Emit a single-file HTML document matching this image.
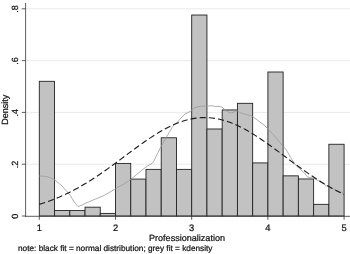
<!DOCTYPE html>
<html><head><meta charset="utf-8"><title>Density</title>
<style>
html,body{margin:0;padding:0;background:#fff;}
svg{display:block;}
text{text-rendering:geometricPrecision;font-family:"Liberation Sans",Arial,sans-serif;fill:#111;stroke:#111;stroke-width:0.22px;}
</style></head><body>
<svg width="350" height="254" viewBox="0 0 350 254">
<rect width="350" height="254" fill="#fff"/>
<g stroke="#eaeaea" stroke-width="1"><line x1="26" x2="350" y1="164.20" y2="164.20"/><line x1="26" x2="350" y1="112.40" y2="112.40"/><line x1="26" x2="350" y1="60.60" y2="60.60"/><line x1="26" x2="350" y1="8.80" y2="8.80"/></g>
<g fill="#c2c2c2" stroke="#222" stroke-width="0.9"><rect x="39.30" y="81.32" width="15.24" height="134.68"/><rect x="54.54" y="210.56" width="15.24" height="5.44"/><rect x="69.78" y="210.56" width="15.24" height="5.44"/><rect x="85.02" y="207.19" width="15.24" height="8.81"/><rect x="100.26" y="213.41" width="15.24" height="2.59"/><rect x="115.50" y="163.42" width="15.24" height="52.58"/><rect x="130.74" y="179.09" width="15.24" height="36.91"/><rect x="145.98" y="169.38" width="15.24" height="46.62"/><rect x="161.22" y="137.78" width="15.24" height="78.22"/><rect x="176.46" y="169.38" width="15.24" height="46.62"/><rect x="191.70" y="15.02" width="15.24" height="200.98"/><rect x="206.94" y="128.98" width="15.24" height="87.02"/><rect x="222.18" y="109.94" width="15.24" height="106.06"/><rect x="237.42" y="103.33" width="15.24" height="112.67"/><rect x="252.66" y="162.91" width="15.24" height="53.09"/><rect x="267.90" y="72.00" width="15.24" height="144.00"/><rect x="283.14" y="175.85" width="15.24" height="40.15"/><rect x="298.38" y="178.96" width="15.24" height="37.04"/><rect x="313.62" y="204.34" width="15.24" height="11.66"/><rect x="328.86" y="144.26" width="15.24" height="71.74"/></g>
<path d="M39.3,176 L45,176.3 L50,177.5 L54,179.5 L58,182.5 L62,186 L66,190.5 L70,195 L74,201.5 L78,206.6 L82,205 L86,203 L92,200.5 L98,198 L104,195.5 L110,192 L116,188.5 L120,186 L124,184 L130,180 L136,175 L142,170 L148,165.6 L152,163.4 L154,161 L156,156.5 L160,148.6 L164,141.4 L168,134.4 L172,127.6 L174.5,124.5 L177,122.6 L181,118 L185,114 L189,112 L192,110 L195,107.6 L199,106.6 L203,106 L207,106.4 L211,105.6 L215,106.4 L219,106.4 L222,107 L224,109 L228,112 L231,113 L234,112 L237,110.6 L240,112.6 L244,114 L248,115 L252,116 L256,119 L260,122 L264,125 L268,129 L272,133.4 L276,137.8 L279,141.4 L282.6,146 L286,149.4 L290.6,157.4 L295,164.3 L299.7,168.9 L304,172.5 L307.5,177 L314,178.3 L321,182.3 L327.7,186.6 L334.6,189.5 L343.5,193" fill="none" stroke="#9a9a9a" stroke-width="0.8" stroke-linejoin="round"/>
<path d="M39.30,204.37 L41.84,203.59 L44.38,202.76 L46.92,201.90 L49.46,201.00 L52.00,200.06 L54.54,199.07 L57.08,198.04 L59.62,196.96 L62.16,195.85 L64.70,194.69 L67.24,193.48 L69.78,192.23 L72.32,190.94 L74.86,189.60 L77.40,188.22 L79.94,186.79 L82.48,185.33 L85.02,183.82 L87.56,182.27 L90.10,180.69 L92.64,179.06 L95.18,177.40 L97.72,175.71 L100.26,173.98 L102.80,172.23 L105.34,170.45 L107.88,168.64 L110.42,166.81 L112.96,164.96 L115.50,163.10 L118.04,161.22 L120.58,159.33 L123.12,157.44 L125.66,155.55 L128.20,153.65 L130.74,151.77 L133.28,149.89 L135.82,148.02 L138.36,146.18 L140.90,144.35 L143.44,142.55 L145.98,140.78 L148.52,139.05 L151.06,137.36 L153.60,135.71 L156.14,134.11 L158.68,132.56 L161.22,131.06 L163.76,129.63 L166.30,128.26 L168.84,126.96 L171.38,125.73 L173.92,124.58 L176.46,123.50 L179.00,122.51 L181.54,121.60 L184.08,120.78 L186.62,120.05 L189.16,119.41 L191.70,118.86 L194.24,118.41 L196.78,118.06 L199.32,117.80 L201.86,117.64 L204.40,117.58 L206.94,117.62 L209.48,117.76 L212.02,118.00 L214.56,118.33 L217.10,118.76 L219.64,119.29 L222.18,119.91 L224.72,120.63 L227.26,121.43 L229.80,122.32 L232.34,123.30 L234.88,124.36 L237.42,125.50 L239.96,126.71 L242.50,128.00 L245.04,129.35 L247.58,130.77 L250.12,132.25 L252.66,133.79 L255.20,135.38 L257.74,137.02 L260.28,138.71 L262.82,140.44 L265.36,142.20 L267.90,143.99 L270.44,145.81 L272.98,147.65 L275.52,149.51 L278.06,151.39 L280.60,153.28 L283.14,155.17 L285.68,157.06 L288.22,158.96 L290.76,160.84 L293.30,162.72 L295.84,164.59 L298.38,166.44 L300.92,168.28 L303.46,170.09 L306.00,171.88 L308.54,173.64 L311.08,175.37 L313.62,177.07 L316.16,178.73 L318.70,180.36 L321.24,181.96 L323.78,183.51 L326.32,185.03 L328.86,186.50 L331.40,187.94 L333.94,189.33 L336.48,190.67 L339.02,191.97 L341.56,193.23 L344.10,194.45" fill="none" stroke="#1a1a1a" stroke-width="1.1" stroke-dasharray="6.1,3.1"/>
<g stroke="#333" stroke-width="0.8"><line x1="25.6" x2="25.6" y1="3" y2="216.8"/><line x1="25.3" x2="350" y1="216.3" y2="216.3"/><line x1="21.8" x2="25.6" y1="216.00" y2="216.00"/><line x1="21.8" x2="25.6" y1="164.20" y2="164.20"/><line x1="21.8" x2="25.6" y1="112.40" y2="112.40"/><line x1="21.8" x2="25.6" y1="60.60" y2="60.60"/><line x1="21.8" x2="25.6" y1="8.80" y2="8.80"/><line x1="39.30" x2="39.30" y1="216.3" y2="219.8"/><line x1="115.50" x2="115.50" y1="216.3" y2="219.8"/><line x1="191.70" x2="191.70" y1="216.3" y2="219.8"/><line x1="267.90" x2="267.90" y1="216.3" y2="219.8"/><line x1="344.10" x2="344.10" y1="216.3" y2="219.8"/></g>
<g font-size="9"><text transform="translate(18.1,216.30) rotate(-90)" text-anchor="middle">0</text><text transform="translate(18.1,164.50) rotate(-90)" text-anchor="middle">.2</text><text transform="translate(18.1,112.70) rotate(-90)" text-anchor="middle">.4</text><text transform="translate(18.1,60.90) rotate(-90)" text-anchor="middle">.6</text><text transform="translate(18.1,9.10) rotate(-90)" text-anchor="middle">.8</text></g><g font-size="9.4"><text x="39.30" y="230.6" text-anchor="middle">1</text><text x="115.50" y="230.6" text-anchor="middle">2</text><text x="191.70" y="230.6" text-anchor="middle">3</text><text x="267.90" y="230.6" text-anchor="middle">4</text><text x="344.10" y="230.6" text-anchor="middle">5</text></g>
<text transform="translate(7.8,109.8) rotate(-90)" text-anchor="middle" font-size="9">Density</text>
<text x="187.0" y="240.5" text-anchor="middle" font-size="9.05">Professionalization</text>
<text x="18" y="251.3" font-size="8.26">note: black fit = normal distribution; grey fit = kdensity</text>
</svg>
</body></html>
